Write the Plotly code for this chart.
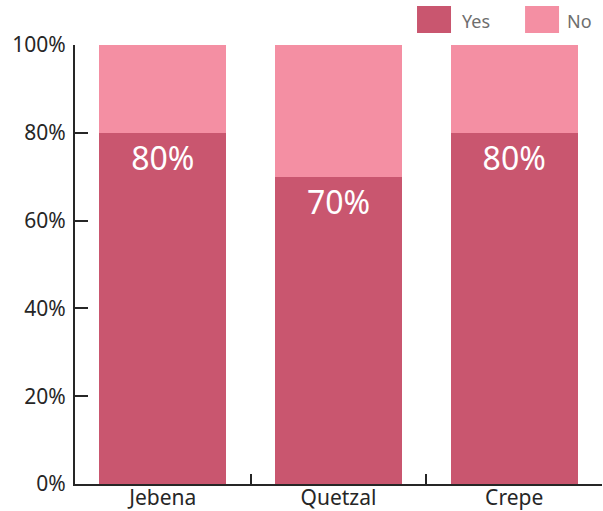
import plotly.graph_objects as go

categories = ["Jebena", "Quetzal", "Crepe"]
yes_share = [80, 70, 80]
no_share = [20, 30, 20]
tick_values = [0, 20, 40, 60, 80, 100]
tick_labels = [f"{v}%" for v in tick_values]

YES_COLOR = "#C9566F"
NO_COLOR = "#F48FA3"
AXIS_COLOR = "#262626"
FONT = "Noto Sans"

fig = go.Figure()
fig.add_trace(go.Bar(
    x=categories, y=yes_share, name="Yes", marker_color=YES_COLOR,
    marker_line_width=0,
    texttemplate="%{y:.0f}%", textposition="inside", insidetextanchor="end",
    textfont=dict(family=FONT, size=32, color="white"),
    textangle=0, cliponaxis=False,
))
fig.add_trace(go.Bar(
    x=categories, y=no_share, name="No", marker_color=NO_COLOR,
    marker_line_width=0, textposition="none",
))

# Custom legend: swatches and labels along the top right
legend_items = [("Yes", YES_COLOR, 0.649, 0.7306), ("No", NO_COLOR, 0.854, 0.9298)]
for label, color, x0, xt in legend_items:
    fig.add_shape(type="rect", xref="paper", yref="paper",
                  x0=x0, x1=x0 + 0.0645, y0=1.0273, y1=1.0888,
                  fillcolor=color, line_width=0)
    fig.add_annotation(text=label, xref="paper", yref="paper",
                       x=xt, y=1.0547, xanchor="left", yanchor="middle",
                       showarrow=False,
                       font=dict(family=FONT, size=18, color="#6e6e6e"))

fig.update_layout(
    barmode="stack",
    bargap=0.276,
    width=603, height=511,
    margin=dict(l=75, r=1, t=45, b=27),
    plot_bgcolor="white", paper_bgcolor="white",
    showlegend=False,
    font=dict(family=FONT, size=20, color=AXIS_COLOR),
    xaxis=dict(
        showgrid=False, showline=True, linecolor=AXIS_COLOR, linewidth=2,
        ticks="inside", ticklen=10, tickwidth=2, tickcolor=AXIS_COLOR,
        tickson="boundaries", layer="below traces", automargin=False,
        ticklabelstandoff=-6,
        tickfont=dict(family=FONT, size=21, color=AXIS_COLOR),
    ),
    yaxis=dict(
        range=[0, 100], showgrid=False, zeroline=False,
        showline=True, linecolor=AXIS_COLOR, linewidth=2,
        ticks="inside", ticklen=13, tickwidth=2, tickcolor=AXIS_COLOR,
        tickmode="array", tickvals=tick_values, ticktext=tick_labels,
        ticklabelstandoff=3, automargin=False,
        tickfont=dict(family=FONT, size=21, color=AXIS_COLOR),
    ),
)

fig.write_html("out.html")
